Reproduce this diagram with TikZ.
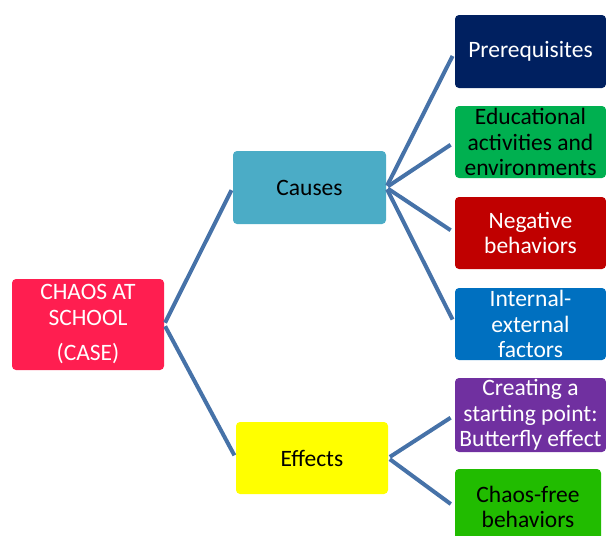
\documentclass[tikz,border=0pt]{standalone}
\usepackage{fontspec}
\setmainfont{Carlito}
\definecolor{rootred}{HTML}{FF1E50}
\definecolor{causecol}{HTML}{4BACC6}
\definecolor{effectcol}{HTML}{FFFF00}
\definecolor{prenavy}{HTML}{002060}
\definecolor{edugreen}{HTML}{00B050}
\definecolor{negred}{HTML}{C00000}
\definecolor{intblue}{HTML}{0070C0}
\definecolor{creapurple}{HTML}{7030A0}
\definecolor{freegreen}{HTML}{21BC00}
\definecolor{linkblue}{HTML}{4672A8}
\begin{document}
\begin{tikzpicture}[x=1pt,y=-1pt,
	box/.style={rounded corners=4pt, align=center, inner sep=0pt,
		font=\fontsize{23.5}{25.5}\selectfont},
	link/.style={draw=linkblue, line width=4pt}]
	\clip (0,0) rectangle (606,536);
	% root
	\node[box, fill=rootred, text=white, minimum width=152pt, minimum height=91pt] (root) at (88,324.5) {CHAOS AT\\SCHOOL\\[10pt](CASE)};
	% middle level
	\node[box, fill=causecol, minimum width=153pt, minimum height=73pt] (causes) at (309.5,187.5) {Causes};
	\node[box, fill=effectcol, minimum width=152pt, minimum height=72pt] (effects) at (312,458) {Effects};
	% causes
	\node[box, fill=prenavy, text=white, minimum width=151pt, minimum height=73pt] (pre) at (530.5,51.5) {Prerequisites};
	\node[box, fill=edugreen, minimum width=151pt, minimum height=72pt] (edu) at (530.5,142) {Educational\\activities and\\environments};
	\node[box, fill=negred, text=white, minimum width=151pt, minimum height=72pt] (neg) at (530.5,233) {Negative\\behaviors};
	\node[box, fill=intblue, text=white, minimum width=151pt, minimum height=72pt] (int) at (530.5,324) {Internal-\\external\\factors};
	% effects
	\node[box, fill=creapurple, text=white, minimum width=151pt, minimum height=74pt] (crea) at (530.5,415) {Creating a\\starting point:\\Butterfly effect};
	\node[box, fill=freegreen, minimum width=146pt, minimum height=76pt] (free) at (528,507) {Chaos-free\\behaviors};
	% connectors
	\draw[link, shorten <=2pt, shorten >=3pt] (root.east) -- (causes.west);
	\draw[link, shorten <=2pt, shorten >=3pt] (root.east) -- (effects.west);
	\foreach \n in {pre,edu,neg,int}
		\draw[link, shorten <=2pt, shorten >=5pt] (causes.east) -- (\n.west);
	\foreach \n in {crea,free}
		\draw[link, shorten <=2pt, shorten >=5pt] (effects.east) -- (\n.west);
\end{tikzpicture}
\end{document}
